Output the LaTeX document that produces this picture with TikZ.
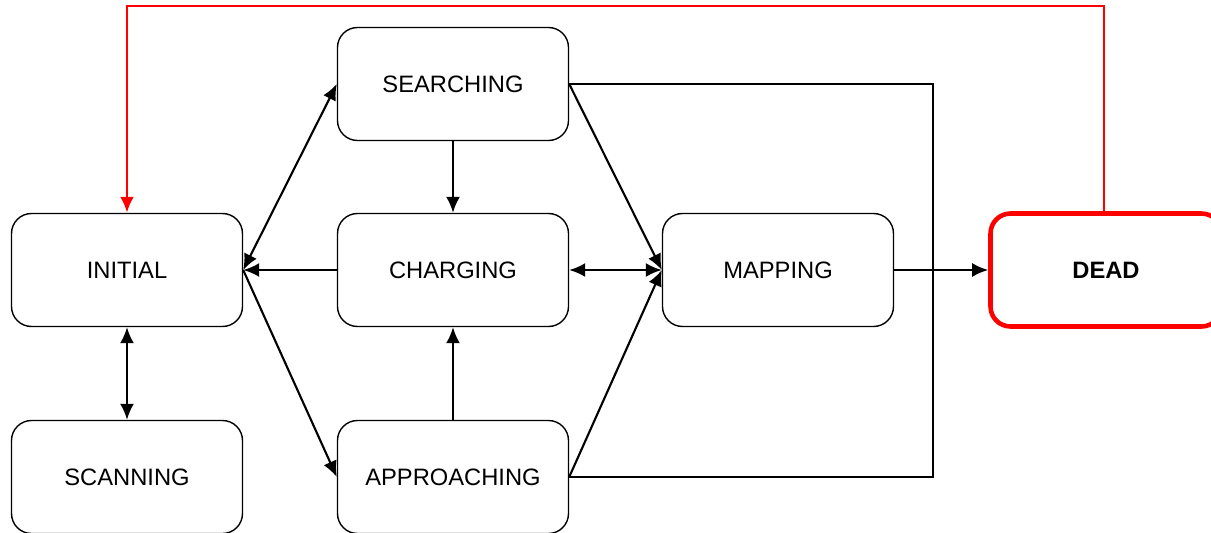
\documentclass[tikz,border=0pt]{standalone}
\usepackage{fontspec}
\setmainfont{Liberation Sans}
\usepackage{tikz}
\usetikzlibrary{arrows.meta}

\begin{document}
\begin{tikzpicture}[line width=1.2pt,
  state/.style={rectangle,rounded corners=0.4cm,draw=black,line width=0.8pt,minimum width=4.62cm,minimum height=2.26cm,font=\fontsize{13.5}{16}\selectfont},
  deadstate/.style={state,draw=red,line width=2.6pt,font=\fontsize{13.5}{16}\selectfont\bfseries},
  onearrow/.style={-{Latex[length=3.2mm,width=2.8mm]}},
  twoarrow/.style={{Latex[length=3.2mm,width=2.8mm]}-{Latex[length=3.2mm,width=2.8mm]}}]
\useasboundingbox (0,0) rectangle (24.22,10.64);
%Node Coordinates
\node at (2.54,5.24) [state] (Initial) {INITIAL};
\node at (2.54,1.10) [state] (Scanning) {SCANNING};
\node at (9.06,8.96) [state] (Searching) {SEARCHING};
\node at (9.06,5.24) [state] (Charging) {CHARGING};
\node at (9.06,1.10) [state] (Approaching) {APPROACHING};
\node at (15.56,5.24) [state] (Mapping) {MAPPING};
\node at (22.12,5.24) [deadstate] (Dead) {DEAD};
\coordinate (Corner) at (18.66,8.96);
\coordinate (Top) at (22.08,10.52);
%connections
\draw [twoarrow] (Initial.east) -- (Searching.west);
\draw [onearrow] (Charging.west) -- (Initial.east);
\draw [onearrow] (Initial.east) -- (Approaching.west);
\draw [twoarrow] (Initial.south) -- (Scanning.north);
\draw [onearrow] (Searching.south) -- (Charging.north);
\draw [onearrow] (Approaching.north) -- (Charging.north |- Charging.south);
\draw [twoarrow] (Charging.east) -- (Mapping.west);
\draw [onearrow] (Searching.east) -- (Mapping.west);
\draw [onearrow] (Approaching.east) -- (Mapping.west);
\draw [onearrow] (Mapping.east) -- (Dead.west);
\draw [line width=0.9pt] (Searching.east) -- (Corner) |- (Approaching.east);
% back to start
\draw [onearrow,red,line width=1.6pt] (Dead.north -| Top) -- (Top) -| (Initial.north);
\end{tikzpicture}
\end{document}
